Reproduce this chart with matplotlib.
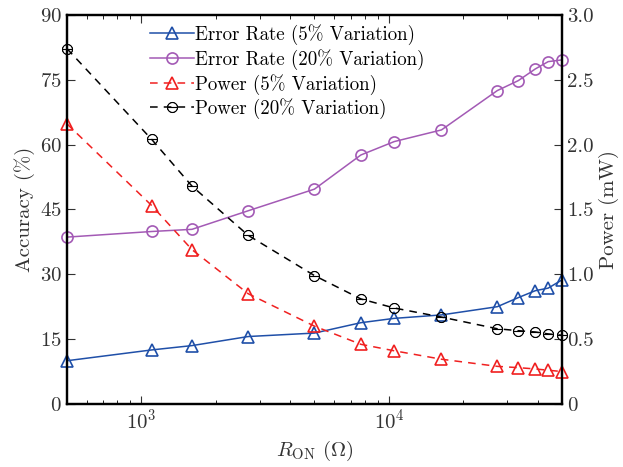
import matplotlib
matplotlib.use('Agg')
import matplotlib.pyplot as plt
from matplotlib.ticker import FixedLocator, NullFormatter, LogLocator

plt.rcParams['font.family'] = 'cmr10'
plt.rcParams['mathtext.fontset'] = 'cm'
plt.rcParams['axes.formatter.use_mathtext'] = True

# R_ON values (ohm)
r_on = [500, 1100, 1600, 2700, 5000, 7700, 10500, 16300, 27400, 33300, 39000, 44000, 50000]

# error rate (%), left axis
err_5 = [10.0, 12.5, 13.5, 15.6, 16.4, 18.8, 19.8, 20.6, 22.5, 24.6, 26.2, 26.8, 28.7]
err_20 = [38.6, 39.9, 40.4, 44.7, 49.7, 57.6, 60.7, 63.4, 72.5, 74.8, 77.5, 79.2, 79.6]

# power (mW), right axis
pow_5 = [2.16, 1.53, 1.19, 0.85, 0.60, 0.46, 0.41, 0.345, 0.29, 0.28, 0.27, 0.26, 0.25]
pow_20 = [2.74, 2.04, 1.68, 1.30, 0.99, 0.81, 0.74, 0.67, 0.58, 0.565, 0.555, 0.54, 0.53]

blue = '#1f4fa8'
purple = '#a35ab5'
red = '#f02020'

fig = plt.figure(figsize=(6.23, 4.67), dpi=100)
ax1 = fig.add_axes([0.1075, 0.135, 0.7945, 0.833])
ax2 = ax1.twinx()

l1, = ax1.plot(r_on, err_5, '-', color=blue, lw=1.1, marker='^', ms=9,
               mfc='none', mec=blue, mew=1.2, clip_on=False, label='Error Rate (5% Variation)')
l2, = ax1.plot(r_on, err_20, '-', color=purple, lw=1.1, marker='o', ms=8,
               mfc='none', mec=purple, mew=1.2, clip_on=False, label='Error Rate (20% Variation)')
l3, = ax2.plot(r_on, pow_5, '--', color=red, lw=1.1, marker='^', ms=9, dashes=(5, 4),
               mfc='none', mec=red, mew=1.2, clip_on=False, label='Power (5% Variation)')
l4, = ax2.plot(r_on, pow_20, '--', color='black', lw=1.1, marker=r'$\ominus$', ms=7.5, dashes=(5, 4),
               mfc='none', mec='black', mew=0.5, clip_on=False, label='Power (20% Variation)')

ax1.set_xscale('log')
ax1.set_xlim(500, 50000)
ax1.set_ylim(0, 90)
ax1.set_yticks([0, 15, 30, 45, 60, 75, 90])
ax2.set_ylim(0, 3.0)
ax2.set_yticks([0, 0.5, 1.0, 1.5, 2.0, 2.5, 3.0])
ax2.set_yticklabels(['0', '0.5', '1.0', '1.5', '2.0', '2.5', '3.0'])

ax1.xaxis.set_major_locator(FixedLocator([1000, 10000]))
ax1.xaxis.set_minor_locator(LogLocator(base=10, subs=range(2, 10)))
ax1.xaxis.set_minor_formatter(NullFormatter())
ax1.tick_params(axis='x', which='both', direction='in', top=True)
ax1.tick_params(axis='x', which='major', length=6)
ax1.tick_params(axis='x', which='minor', length=3)
ax1.tick_params(axis='y', direction='in', length=6)
ax2.tick_params(axis='y', direction='in', length=6)
ax1.tick_params(labelsize=15, colors='#333333')
ax2.tick_params(labelsize=15, colors='#333333')

for ax in (ax1, ax2):
    for s in ax.spines.values():
        s.set_linewidth(1.6)

ax1.set_xlabel(r'$R_{\rm ON}$ $(\Omega)$', fontsize=15, color='#333333')
ax1.set_ylabel('Accuracy (%)', fontsize=15, color='#333333')
ax2.set_ylabel('Power (mW)', fontsize=15, color='#333333')

ax2.legend(handles=[l1, l2, l3, l4], loc='upper left', bbox_to_anchor=(0.145, 1.005),
           frameon=False, fontsize=13.6, handlelength=2.3, handletextpad=0.1,
           labelspacing=0.2, borderaxespad=0.2)

fig.savefig('out.png', dpi=100)
